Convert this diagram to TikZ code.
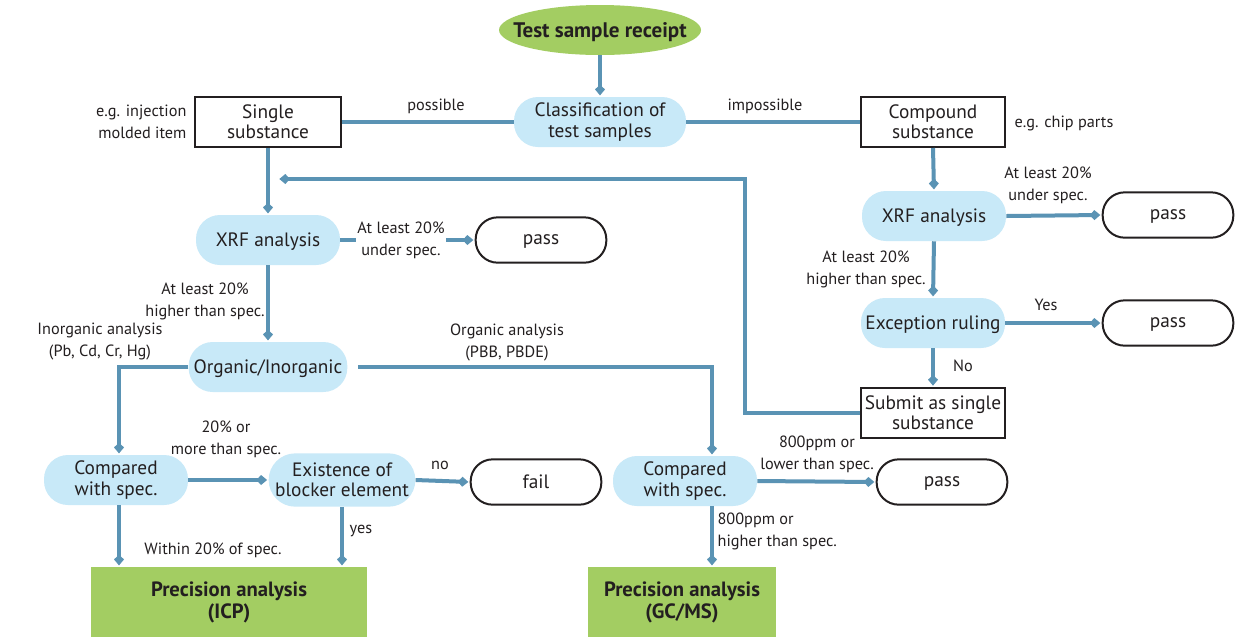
\documentclass[tikz,border=0pt]{standalone}
\usepackage{fontspec}
\setmainfont{PT Sans}
\usetikzlibrary{arrows.meta,shapes.geometric,calc}
\definecolor{lb}{HTML}{C8E9F8}
\definecolor{gr}{HTML}{A3CD62}
\definecolor{cn}{HTML}{5A93B4}
\definecolor{tx}{HTML}{231F20}
\begin{document}
\begin{tikzpicture}[x=0.75pt,y=-0.75pt,
 nbase/.style={inner sep=0pt,align=center,text=tx,font=\fontsize{14.5}{15.3}\selectfont},
 capsule/.style={nbase,fill=lb,rounded corners=18pt,minimum width=108pt,minimum height=37.5pt},
 rectbox/.style={nbase,draw=tx,line width=1.5pt,minimum width=108pt,minimum height=37.5pt},
 result/.style={nbase,draw=tx,line width=1.5pt,rounded corners=16.5pt,minimum width=98pt,minimum height=34pt},
 precbox/.style={nbase,fill=gr,font=\bfseries\fontsize{15.5}{16.5}\selectfont,minimum height=52.5pt},
 lbl/.style={inner sep=1pt,align=center,text=tx,font=\fontsize{12.2}{16.5}\selectfont},
 oneline/.style={text depth=0pt},
 conn/.style={draw=cn,line width=3pt},
 arr/.style={conn,shorten >=1pt,-{Kite[length=8pt,width=7.5pt,inset=3.5pt]}},
]
\useasboundingbox[fill=white] (0,0) rectangle (1249,637);
% nodes
\node[ellipse,fill=gr,minimum width=151.5pt,minimum height=37.5pt,inner xsep=-11.7pt,inner ysep=0pt,font=\bfseries\fontsize{15.8}{16}\selectfont,text=tx,text depth=0pt] (rcpt) at (600,30) {Test sample receipt};
\node[capsule,minimum width=129pt] (cls) at (600,122) {Classification of\\test samples};
\node[rectbox,minimum width=109pt] (single) at (268,122) {Single\\substance};
\node[rectbox] (comp) at (933,122) {Compound\\substance};
\node[capsule,oneline] (xrfL) at (268,240) {XRF analysis};
\node[result,oneline] (passL) at (541,240) {pass};
\node[capsule,oneline,minimum width=119pt] (org) at (268,367) {Organic/Inorganic};
\node[capsule] (cmpL) at (116,480) {Compared\\with spec.};
\node[capsule,minimum width=110pt,minimum height=40pt,rounded corners=20pt] (blk) at (342,480) {Existence of\\blocker element};
\node[result] (fail) at (536,482) {fail};
\node[capsule] (cmpR) at (685,481) {Compared\\with spec.};
\node[result,oneline] (passB) at (942,482) {pass};
\node[precbox,minimum width=207pt] (icp) at (229,602) {Precision analysis\\(ICP)};
\node[precbox,minimum width=141pt] (gc) at (682,602) {Precision analysis\\(GC/MS)};
\node[capsule,oneline] (xrfR) at (934,216) {XRF analysis};
\node[result,oneline] (passT) at (1168,215) {pass};
\node[capsule,oneline] (exc) at (933,323) {Exception ruling};
\node[result,oneline] (passE) at (1168,323) {pass};
\node[rectbox] (sub) at (933,413) {Submit as single\\substance};
% connectors
\draw[arr] (rcpt.south) -- (cls.north);
\draw[conn] (cls.west) -- (single.east);
\draw[conn] (cls.east) -- (comp.west);
\draw[arr] (single.south) -- (xrfL.north);
\coordinate (fbc) at (745,179);
\coordinate (fbe) at (278,179);
\draw[arr] (sub.west) -| (fbc) -- (fbe);
\draw[arr] (xrfL.east) -- (passL.west);
\draw[arr] (xrfL.south) -- (org.north);
\draw[arr] (org.west) -| ([xshift=2.25pt]cmpL.north);
\draw[arr] ([xshift=8pt]org.east) -| ([xshift=20.25pt]cmpR.north);
\draw[arr] (cmpL.east) -- (blk.west);
\draw[arr] (blk.east) -- (fail.west);
\draw[arr] (cmpR.east) -- (passB.west);
\draw[arr] ([xshift=2.25pt]cmpL.south) -- ([xshift=2.25pt]cmpL.south |- icp.north);
\draw[arr] (blk.south) -- (blk.south |- icp.north);
\draw[arr] ([xshift=20.25pt]cmpR.south) -- ([xshift=20.25pt]cmpR.south |- gc.north);
\draw[arr] (comp.south) -- (xrfR.north);
\draw[arr] (xrfR.east) -- (passT.west);
\draw[arr] (xrfR.south) -- (exc.north);
\draw[arr] (exc.east) -- (passE.west);
\draw[arr] (exc.south) -- (sub.north);
% labels
\node[lbl,anchor=east,align=right] (t1) at (188,122) {e.g. injection\\molded item};
\node[lbl,anchor=west,align=left] (t2) at (1013,123) {e.g. chip parts};
\node[lbl] (t3) at (436,106) {possible};
\node[lbl] (t4) at (765,106) {impossible};
\node[lbl,fill=white] (t5) at (401,240) {At least 20\%\\under spec.};
\node[lbl] (t6) at (205,301) {At least 20\%\\higher than spec.};
\node[lbl] (t7) at (100,342) {Inorganic analysis\\(Pb, Cd, Cr, Hg)};
\node[lbl] (t8) at (507,342) {Organic analysis\\(PBB, PBDE)};
\node[lbl] (t9) at (226,439) {20\% or\\more than spec.};
\node[lbl] (t10) at (440,465) {no};
\node[lbl] (t11) at (213,550) {Within 20\% of spec.};
\node[lbl] (t12) at (361,531) {yes};
\node[lbl] (t13) at (817,454) {800ppm or\\lower than spec.};
\node[lbl,anchor=west,align=left] (t14) at (716,531) {800ppm or\\higher than spec.};
\node[lbl] (t15) at (1048,185) {At least 20\%\\under spec.};
\node[lbl] (t16) at (866,269) {At least 20\%\\higher than spec.};
\node[lbl] (t17) at (1046,305) {Yes};
\node[lbl] (t18) at (963,366) {No};
\end{tikzpicture}
\end{document}
